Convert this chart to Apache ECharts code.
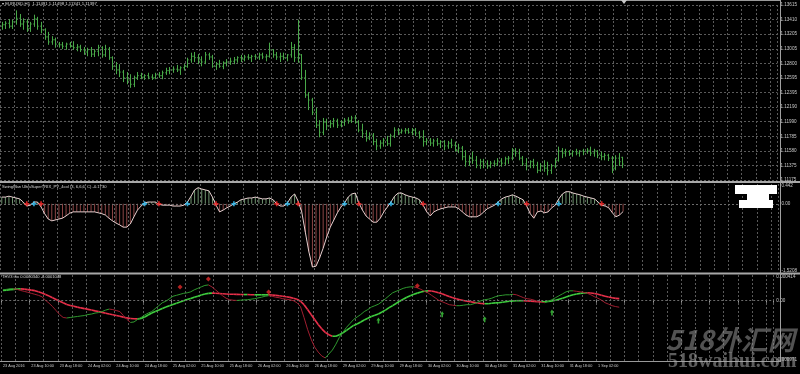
<!DOCTYPE html>
<html><head><meta charset="utf-8">
<script src="https://cdn.jsdelivr.net/npm/echarts@6.0.0/dist/echarts.min.js"></script>
<style>html,body{margin:0;padding:0;background:#000;}#c{width:800px;height:374px;}</style>
</head><body><div id="c"></div>
<script>
// ---------- data ----------
const timeLabels = ['23 Aug 2016','23 Aug 10:00','23 Aug 18:00','24 Aug 02:00','24 Aug 10:00','24 Aug 18:00','25 Aug 02:00','25 Aug 10:00','25 Aug 18:00','26 Aug 02:00','26 Aug 10:00','26 Aug 18:00','29 Aug 02:00','29 Aug 10:00','29 Aug 18:00','30 Aug 02:00','30 Aug 10:00','30 Aug 18:00','31 Aug 02:00','31 Aug 10:00','31 Aug 18:00','1 Sep 02:00'];
const priceTicks = [1.13615,1.13410,1.13205,1.13005,1.12800,1.12595,1.12395,1.12190,1.11990,1.11785,1.11580,1.11375,1.11175];
const lastPrice = 1.11397;

const barOpen = [
1.1332,1.1334,1.1336,1.1332,1.1338,1.1343,1.1335,1.1338,1.1329,1.1335,
1.1342,1.1332,1.1327,1.1317,1.1310,1.1313,1.1307,1.1306,1.1304,1.1307,
1.1304,1.1302,1.1303,1.1299,1.1296,1.1299,1.1293,1.1297,1.1302,1.1292,
1.1300,1.1288,1.1276,1.1271,1.1268,1.1260,1.1257,1.1251,1.1260,1.1263,
1.1261,1.1263,1.1261,1.1260,1.1264,1.1263,1.1267,1.1270,1.1271,1.1272,
1.1271,1.1274,1.1276,1.1285,1.1290,1.1288,1.1285,1.1282,1.1292,1.1289,
1.1276,1.1279,1.1276,1.1281,1.1282,1.1283,1.1285,1.1288,1.1286,1.1289,
1.1288,1.1290,1.1289,1.1292,1.1289,1.1290,1.1299,1.1292,1.1289,1.1290,
1.1288,1.1292,1.1302,1.1288,1.1292,1.1260,1.1236,1.1229,1.1212,1.1194,
1.1184,1.1198,1.1193,1.1196,1.1200,1.1194,1.1198,1.1201,1.1200,1.1204,
1.1198,1.1187,1.1182,1.1176,1.1180,1.1171,1.1165,1.1169,1.1173,1.1168,
1.1179,1.1187,1.1184,1.1186,1.1187,1.1184,1.1187,1.1183,1.1177,1.1171,
1.1173,1.1169,1.1172,1.1168,1.1171,1.1165,1.1169,1.1166,1.1159,1.1162,
1.1150,1.1143,1.1148,1.1145,1.1138,1.1143,1.1140,1.1137,1.1141,1.1140,
1.1144,1.1141,1.1147,1.1148,1.1158,1.1155,1.1148,1.1140,1.1137,1.1143,
1.1138,1.1131,1.1137,1.1134,1.1131,1.1137,1.1145,1.1158,1.1155,1.1157,
1.1154,1.1157,1.1155,1.1158,1.1157,1.1159,1.1155,1.1158,1.1152,1.1150,
1.1152,1.1148,1.1134,1.1148,1.11491];
const barHigh = [
1.1338,1.1339,1.1342,1.1341,1.1354,1.1349,1.1343,1.1342,1.1338,1.1348,
1.1345,1.1338,1.1329,1.1324,1.1318,1.1316,1.1310,1.1310,1.1309,1.1310,
1.1311,1.1307,1.1306,1.1303,1.1302,1.1303,1.1300,1.1306,1.1304,1.1306,
1.1303,1.1290,1.1282,1.1279,1.1271,1.1268,1.1265,1.1263,1.1268,1.1267,
1.1265,1.1267,1.1265,1.1267,1.1268,1.1270,1.1274,1.1275,1.1276,1.1278,
1.1276,1.1279,1.1288,1.1295,1.1296,1.1293,1.1290,1.1296,1.1295,1.1292,
1.1282,1.1285,1.1283,1.1286,1.1288,1.1289,1.1290,1.1292,1.1292,1.1293,
1.1292,1.1293,1.1295,1.1295,1.1293,1.1309,1.1300,1.1296,1.1295,1.1295,
1.1293,1.1310,1.1307,1.1341,1.1293,1.1271,1.1240,1.1232,1.1218,1.1201,
1.1204,1.1203,1.1201,1.1204,1.1203,1.1201,1.1204,1.1205,1.1207,1.1208,
1.1201,1.1196,1.1187,1.1184,1.1183,1.1175,1.1173,1.1176,1.1179,1.1182,
1.1191,1.1190,1.1189,1.1190,1.1190,1.1190,1.1190,1.1186,1.1187,1.1176,
1.1176,1.1175,1.1176,1.1173,1.1173,1.1172,1.1175,1.1171,1.1168,1.1165,
1.1159,1.1152,1.1157,1.1151,1.1147,1.1147,1.1145,1.1144,1.1145,1.1148,
1.1148,1.1150,1.1151,1.1162,1.1162,1.1161,1.1151,1.1148,1.1145,1.1147,
1.1143,1.1141,1.1145,1.1143,1.1140,1.1148,1.1164,1.1162,1.1161,1.1159,
1.1159,1.1161,1.1159,1.1161,1.1162,1.1164,1.1161,1.1159,1.1157,1.1155,
1.1154,1.1151,1.1152,1.1155,1.11498];
const barLow = [
1.1327,1.1328,1.1329,1.1328,1.1334,1.1331,1.1327,1.1324,1.1324,1.1331,
1.1327,1.1322,1.1313,1.1306,1.1306,1.1302,1.1302,1.1300,1.1299,1.1302,
1.1299,1.1297,1.1296,1.1292,1.1290,1.1289,1.1289,1.1290,1.1288,1.1289,
1.1285,1.1271,1.1265,1.1261,1.1254,1.1251,1.1246,1.1247,1.1257,1.1258,
1.1257,1.1258,1.1257,1.1258,1.1260,1.1258,1.1264,1.1265,1.1267,1.1268,
1.1264,1.1270,1.1274,1.1281,1.1282,1.1279,1.1276,1.1279,1.1285,1.1274,
1.1271,1.1274,1.1272,1.1276,1.1278,1.1279,1.1281,1.1282,1.1283,1.1285,
1.1282,1.1285,1.1285,1.1286,1.1283,1.1288,1.1288,1.1285,1.1282,1.1285,
1.1283,1.1288,1.1282,1.1281,1.1257,1.1232,1.1215,1.1208,1.1190,1.1177,
1.1180,1.1187,1.1190,1.1191,1.1190,1.1191,1.1193,1.1196,1.1197,1.1196,
1.1184,1.1176,1.1171,1.1173,1.1166,1.1159,1.1161,1.1164,1.1165,1.1164,
1.1176,1.1180,1.1182,1.1182,1.1182,1.1180,1.1179,1.1175,1.1164,1.1166,
1.1165,1.1164,1.1165,1.1162,1.1159,1.1161,1.1162,1.1157,1.1155,1.1145,
1.1136,1.1137,1.1140,1.1134,1.1133,1.1134,1.1133,1.1134,1.1136,1.1137,
1.1136,1.1138,1.1140,1.1145,1.1150,1.1145,1.1137,1.1131,1.1134,1.1134,
1.1127,1.1129,1.1129,1.1124,1.1126,1.1134,1.1143,1.1148,1.1150,1.1151,
1.1150,1.1152,1.1150,1.1152,1.1154,1.1151,1.1150,1.1148,1.1145,1.1145,
1.1144,1.1127,1.1131,1.1137,1.11341];
const barClose = [
1.1334,1.1336,1.1332,1.1338,1.1343,1.1335,1.1338,1.1329,1.1335,1.1342,
1.1332,1.1327,1.1317,1.1310,1.1313,1.1307,1.1306,1.1304,1.1307,1.1304,
1.1302,1.1303,1.1299,1.1296,1.1299,1.1293,1.1297,1.1302,1.1292,1.1300,
1.1288,1.1276,1.1271,1.1268,1.1260,1.1257,1.1251,1.1260,1.1263,1.1261,
1.1263,1.1261,1.1260,1.1264,1.1263,1.1267,1.1270,1.1271,1.1272,1.1271,
1.1274,1.1276,1.1285,1.1290,1.1288,1.1285,1.1282,1.1292,1.1289,1.1276,
1.1279,1.1276,1.1281,1.1282,1.1283,1.1285,1.1288,1.1286,1.1289,1.1288,
1.1290,1.1289,1.1292,1.1289,1.1290,1.1299,1.1292,1.1289,1.1290,1.1288,
1.1292,1.1302,1.1288,1.1292,1.1260,1.1236,1.1229,1.1212,1.1194,1.1184,
1.1198,1.1193,1.1196,1.1200,1.1194,1.1198,1.1201,1.1200,1.1204,1.1198,
1.1187,1.1182,1.1176,1.1180,1.1171,1.1165,1.1169,1.1173,1.1168,1.1179,
1.1187,1.1184,1.1186,1.1187,1.1184,1.1187,1.1183,1.1177,1.1171,1.1173,
1.1169,1.1172,1.1168,1.1171,1.1165,1.1169,1.1166,1.1159,1.1162,1.1150,
1.1143,1.1148,1.1145,1.1138,1.1143,1.1140,1.1137,1.1141,1.1140,1.1144,
1.1141,1.1147,1.1148,1.1158,1.1155,1.1148,1.1140,1.1137,1.1143,1.1138,
1.1131,1.1137,1.1134,1.1131,1.1137,1.1145,1.1158,1.1155,1.1157,1.1154,
1.1157,1.1155,1.1158,1.1157,1.1159,1.1155,1.1158,1.1152,1.1150,1.1152,
1.1148,1.1134,1.1148,1.1143,1.11397];

const swing = [
0.15,0.15,0.17,0.15,0.13,0.11,0.04,-0.05,-0.03,0.04,
0.04,-0.07,-0.22,-0.34,-0.38,-0.36,-0.34,-0.32,-0.27,-0.21,
-0.18,-0.18,-0.18,-0.18,-0.18,-0.18,-0.18,-0.20,-0.22,-0.25,
-0.32,-0.38,-0.43,-0.47,-0.52,-0.52,-0.45,-0.29,-0.14,-0.05,
0.02,0.04,0.04,0.04,-0.01,-0.03,-0.03,-0.03,-0.05,-0.05,
-0.05,-0.03,0.04,0.17,0.31,0.36,0.33,0.31,0.29,0.15,
-0.03,-0.18,-0.14,-0.09,-0.05,0.00,0.04,0.09,0.11,0.13,
0.13,0.15,0.13,0.11,0.11,0.13,0.09,0.00,-0.05,-0.05,
0.02,0.15,0.22,0.06,-0.18,-0.63,-1.07,-1.41,-1.39,-1.21,
-0.99,-0.74,-0.52,-0.36,-0.20,-0.07,0.02,0.15,0.22,0.24,
0.02,-0.14,-0.27,-0.34,-0.41,-0.41,-0.32,-0.18,-0.07,0.04,
0.17,0.24,0.24,0.20,0.17,0.15,0.13,0.09,-0.03,-0.18,
-0.27,-0.18,-0.14,-0.11,-0.09,-0.07,-0.07,-0.07,-0.11,-0.18,
-0.25,-0.29,-0.29,-0.29,-0.25,-0.18,-0.11,-0.07,-0.03,0.04,
0.11,0.15,0.17,0.20,0.17,0.13,0.09,-0.05,-0.22,-0.32,
-0.18,-0.16,-0.20,-0.18,-0.09,-0.03,0.11,0.22,0.27,0.27,
0.24,0.22,0.20,0.17,0.15,0.13,0.11,0.04,-0.03,-0.05,
-0.09,-0.20,-0.29,-0.25,-0.173];
const swingRedIdx = [7,11,44,60,77,83,100,118,147,168];
const swingCyanIdx = [9,40,52,65,80,96,109,139,156];
const swingTicks = [0.442, 0, -1.5208];
const swingTickLabels = ['0.442','0.00','-1.5208'];

const trixFast = [
175e-6,183e-6,191e-6,191e-6,183e-6,164e-6,151e-6,135e-6,119e-6,103e-6,
87e-6,64e-6,8e-6,-40e-6,-95e-6,-159e-6,-223e-6,-270e-6,-278e-6,-270e-6,
-262e-6,-254e-6,-246e-6,-239e-6,-223e-6,-215e-6,-199e-6,-191e-6,-175e-6,-151e-6,
-135e-6,-143e-6,-159e-6,-175e-6,-239e-6,-302e-6,-350e-6,-342e-6,-302e-6,-270e-6,
-231e-6,-199e-6,-175e-6,-127e-6,-80e-6,-32e-6,-8e-6,32e-6,72e-6,87e-6,
103e-6,119e-6,127e-6,143e-6,175e-6,199e-6,223e-6,246e-6,254e-6,223e-6,
175e-6,127e-6,80e-6,40e-6,16e-6,8e-6,5e-6,8e-6,13e-6,16e-6,
24e-6,32e-6,45e-6,56e-6,72e-6,80e-6,72e-6,56e-6,48e-6,32e-6,
24e-6,16e-6,0,-32e-6,-95e-6,-270e-6,-461e-6,-620e-6,-747e-6,-827e-6,
-890e-6,-922e-6,-859e-6,-795e-6,-700e-6,-588e-6,-509e-6,-429e-6,-366e-6,-302e-6,
-262e-6,-223e-6,-175e-6,-143e-6,-103e-6,-80e-6,-56e-6,-16e-6,32e-6,80e-6,
127e-6,151e-6,175e-6,199e-6,215e-6,223e-6,223e-6,207e-6,183e-6,151e-6,
127e-6,87e-6,48e-6,8e-6,-16e-6,-40e-6,-64e-6,-72e-6,-80e-6,-80e-6,
-72e-6,-64e-6,-64e-6,-48e-6,-24e-6,0,16e-6,24e-6,40e-6,64e-6,
80e-6,87e-6,95e-6,95e-6,103e-6,95e-6,72e-6,48e-6,32e-6,24e-6,
8e-6,-16e-6,-24e-6,-32e-6,-8e-6,16e-6,48e-6,80e-6,111e-6,143e-6,
159e-6,159e-6,151e-6,143e-6,135e-6,119e-6,95e-6,64e-6,40e-6,8e-6,
-32e-6,-56e-6,-80e-6,-95e-6,-104.8e-6];
const trixSlow = [
164e-6,170e-6,178e-6,183e-6,188e-6,191e-6,186e-6,178e-6,170e-6,162e-6,
143e-6,124e-6,99e-6,75e-6,48e-6,19e-6,-8e-6,-32e-6,-60e-6,-76e-6,
-89e-6,-103e-6,-116e-6,-127e-6,-140e-6,-151e-6,-164e-6,-175e-6,-188e-6,-202e-6,
-215e-6,-227e-6,-239e-6,-251e-6,-264e-6,-277e-6,-286e-6,-291e-6,-293e-6,-286e-6,
-262e-6,-231e-6,-199e-6,-175e-6,-151e-6,-127e-6,-103e-6,-80e-6,-60e-6,-40e-6,
-19e-6,0,19e-6,35e-6,56e-6,73e-6,91e-6,107e-6,118e-6,122e-6,
121e-6,116e-6,111e-6,108e-6,105e-6,103e-6,102e-6,100e-6,99e-6,99e-6,
97e-6,95e-6,95e-6,95e-6,95e-6,95e-6,92e-6,86e-6,80e-6,72e-6,
64e-6,54e-6,41e-6,24e-6,-8e-6,-64e-6,-143e-6,-223e-6,-302e-6,-382e-6,
-453e-6,-509e-6,-548e-6,-572e-6,-572e-6,-548e-6,-517e-6,-477e-6,-437e-6,-398e-6,
-374e-6,-342e-6,-310e-6,-283e-6,-254e-6,-235e-6,-215e-6,-183e-6,-151e-6,-111e-6,
-80e-6,-45e-6,-8e-6,24e-6,56e-6,80e-6,103e-6,122e-6,140e-6,151e-6,
159e-6,156e-6,143e-6,127e-6,111e-6,87e-6,67e-6,48e-6,32e-6,16e-6,
3e-6,-8e-6,-16e-6,-27e-6,-37e-6,-45e-6,-48e-6,-48e-6,-41e-6,-35e-6,
-32e-6,-25e-6,-16e-6,-10e-6,-3e-6,0,0,0,-3e-6,-6e-6,
-11e-6,-16e-6,-17e-6,-16e-6,-11e-6,-3e-6,8e-6,24e-6,41e-6,60e-6,
80e-6,95e-6,108e-6,118e-6,124e-6,127e-6,124e-6,116e-6,103e-6,89e-6,
73e-6,60e-6,48e-6,38e-6,34e-6];
const trixRedIdx = [50,58,75,117];
const trixRedVal = [220e-6,350e-6,140e-6,240e-6];
const trixGreenIdx = [106,124,136,155];
const trixGreenVal = [-320e-6,-220e-6,-300e-6,-190e-6];
const trixTicks = [0.000414, 0, -0.000971];
const trixTickLabels = ['0.000414','0.00','-0.000971'];

// ---------- layout / style ----------
const TOTAL = 218;
const cats = Array.from({length: TOTAL}, (_, i) => String(i));
const gridLine = {color:'#5a5a5a', type:[2,2], width:1};
const txt = '#c8c8c8';
const font = 'Liberation Sans, Arial, sans-serif';
const LS = 4.6;

function nearestIdx(ticks, v){ let b = 0; for (let k = 1; k < ticks.length; k++) if (Math.abs(ticks[k]-v) < Math.abs(ticks[b]-v)) b = k; return b; }
// first label is pushed down, last pushed up so they sit inside their pane
function edgeLabels(ticks, labels){
  return v => { const k = nearestIdx(ticks, v); if (k === 0) return '{t|' + labels[k] + '}'; if (k === ticks.length-1) return '{b|' + labels[k] + '}'; return labels[k]; };
}
const edgeRich = {
  t:{fontSize:LS, fontFamily:font, color:txt, padding:[4,0,0,0]},
  b:{fontSize:LS, fontFamily:font, color:txt, padding:[0,0,3,0]}
};
function xAx(gi, show){
  return {type:'category', gridIndex:gi, data:cats, boundaryGap:true,
    axisLine:{show:false},
    axisTick:{show:show, interval:7, length:2, lineStyle:{color:'#9a9a9a'}},
    axisLabel:{show:show, interval:7, align:'left', margin:3, fontSize:3.8, fontFamily:font, color:txt,
      formatter:(v, idx) => (idx % 8 === 0 && timeLabels[idx/8]) ? timeLabels[idx/8] : ''},
    splitLine:{show:true, interval:3, lineStyle:gridLine}};
}
const labelStyle = {fontSize:LS, fontFamily:font, color:txt, margin:3};
const priceInterval = (priceTicks[0] - priceTicks[priceTicks.length-1]) / (priceTicks.length - 1);

const ohlcData = barOpen.map((o, i) => [i, o, barHigh[i], barLow[i], barClose[i]]);
function renderOHLC(params, api){
  const i = api.value(0);
  const o = api.coord([i, api.value(1)]), h = api.coord([i, api.value(2)]);
  const l = api.coord([i, api.value(3)]), c = api.coord([i, api.value(4)]);
  const x = Math.round(o[0]) + 0.5;
  const st = {stroke:'#48a848', lineWidth:1};
  return {type:'group', children:[
    {type:'line', shape:{x1:x, y1:h[1], x2:x, y2:l[1]}, style:st},
    {type:'line', shape:{x1:x-1.2, y1:o[1], x2:x, y2:o[1]}, style:st},
    {type:'line', shape:{x1:x, y1:c[1], x2:x+1.2, y2:c[1]}, style:st}
  ]};
}
function segRenderer(arr, up, down, w){
  return function(params, api){
    const i = params.dataIndex;
    if (i >= arr.length - 1) return null;
    const p1 = api.coord([i, arr[i]]), p2 = api.coord([i+1, arr[i+1]]);
    return {type:'line', shape:{x1:p1[0], y1:p1[1], x2:p2[0], y2:p2[1]},
      style:{stroke: arr[i+1] >= arr[i] ? up : down, lineWidth:w}};
  };
}
const zeroLine = {silent:true, symbol:['none','none'], animation:false, data:[{yAxis:0}],
  lineStyle:{color:'#6a6a6a', type:[2,2], width:1}, label:{show:false}};

const chart = echarts.init(document.getElementById('c'), null, {renderer:'canvas'});
chart.setOption({
  backgroundColor:'#000',
  animation:false,
  title:[
    {text:'\u25BE EURUSD,H1  1.11491 1.11498 1.11341 1.11397', left:2, top:2, padding:0, textStyle:{fontSize:4.3, fontWeight:'normal', color:'#d8d8d8', fontFamily:font}},
    {text:'SwingMan UltraSuperTRIX_PV_4col (3, 6,6,6, C) -0.1730', left:2, top:185, padding:0, textStyle:{fontSize:4.1, fontWeight:'normal', color:'#d8d8d8', fontFamily:font}},
    {text:'THV3 trix 0.0000340 -0.0001048', left:2, top:275, padding:0, textStyle:{fontSize:4.1, fontWeight:'normal', color:'#d8d8d8', fontFamily:font}}
  ],
  grid:[
    {left:0, width:780, top:5, height:175},
    {left:0, width:780, top:184, height:88},
    {left:0, width:780, top:275, height:86}
  ],
  xAxis:[xAx(0,false), xAx(1,false), xAx(2,true)],
  yAxis:[
    {type:'value', gridIndex:0, position:'right', min:priceTicks[priceTicks.length-1], max:priceTicks[0], interval:priceInterval,
      axisLine:{show:false}, axisTick:{show:false},
      axisLabel:Object.assign({formatter:v => priceTicks[nearestIdx(priceTicks, v)].toFixed(5)}, labelStyle),
      splitLine:{show:true, lineStyle:gridLine}},
    {type:'value', gridIndex:1, position:'right', min:-1.5208, max:0.442,
      axisLine:{show:false}, axisTick:{show:false},
      axisLabel:Object.assign({customValues:swingTicks, formatter:edgeLabels(swingTicks, swingTickLabels), rich:edgeRich}, labelStyle),
      splitLine:{show:false}},
    {type:'value', gridIndex:2, position:'right', min:-0.000971, max:0.000414,
      axisLine:{show:false}, axisTick:{show:false},
      axisLabel:Object.assign({customValues:trixTicks, formatter:edgeLabels(trixTicks, trixTickLabels), rich:edgeRich}, labelStyle),
      splitLine:{show:false}}
  ],
  series:[
    {type:'custom', xAxisIndex:0, yAxisIndex:0, data:ohlcData, encode:{x:0, y:[1,2,3,4]}, renderItem:renderOHLC, silent:true, z:3},
    {type:'line', xAxisIndex:0, yAxisIndex:0, data:barClose, symbol:'none', lineStyle:{opacity:0}, silent:true, z:4,
      markLine:{silent:true, symbol:['none','none'], animation:false,
        data:[{yAxis:lastPrice}],
        lineStyle:{color:'#8e8e8e', type:'solid', width:1},
        label:{position:'end', distance:1, formatter:lastPrice.toFixed(5), fontSize:LS, fontFamily:font, color:'#000', backgroundColor:'#d4d4d4', padding:[1,2,1,2]}}},
    {type:'bar', xAxisIndex:1, yAxisIndex:1, data:swing, barWidth:1, silent:true,
      itemStyle:{color: p => p.value >= 0 ? '#6f936f' : '#8c4646'}},
    {type:'line', xAxisIndex:1, yAxisIndex:1, data:swing, symbol:'none', silent:true, lineStyle:{color:'#e6cfcf', width:1}, z:5,
      markLine:zeroLine},
    {type:'scatter', xAxisIndex:1, yAxisIndex:1, data:swingRedIdx.map(i => [i, 0]), symbol:'path://M2,0H4V2H6V4H4V6H2V4H0V2H2Z', symbolSize:5, itemStyle:{color:'#ff2a2a'}, silent:true, z:6},
    {type:'scatter', xAxisIndex:1, yAxisIndex:1, data:swingCyanIdx.map(i => [i, 0]), symbol:'path://M2,0H4V2H6V4H4V6H2V4H0V2H2Z', symbolSize:5, itemStyle:{color:'#38c8ff'}, silent:true, z:6},
    {type:'line', xAxisIndex:2, yAxisIndex:2, data:trixSlow, symbol:'none', lineStyle:{opacity:0}, silent:true, z:2,
      markLine:zeroLine},
    {type:'custom', xAxisIndex:2, yAxisIndex:2, data:trixSlow.map((v, i) => [i, v]), encode:{x:0, y:1}, renderItem:segRenderer(trixSlow, '#3fcf3f', '#e8304a', 1.6), silent:true, z:4},
    {type:'custom', xAxisIndex:2, yAxisIndex:2, data:trixFast.map((v, i) => [i, v]), encode:{x:0, y:1}, renderItem:segRenderer(trixFast, '#2f9a2f', '#a01e30', 1), silent:true, z:5},
    {type:'scatter', xAxisIndex:2, yAxisIndex:2, data:trixRedIdx.map((i, k) => [i, trixRedVal[k]]), symbol:'diamond', symbolSize:5, itemStyle:{color:'#e02a2a'}, silent:true, z:6},
    {type:'scatter', xAxisIndex:2, yAxisIndex:2, data:trixGreenIdx.map((i, k) => [i, trixGreenVal[k]]), symbol:'path://M5,0L10,5L7,5L7,10L3,10L3,5L0,5Z', symbolSize:[4,6], itemStyle:{color:'#3fcf3f'}, silent:true, z:6}
  ],
  graphic:[
    {type:'rect', shape:{x:0, y:0, width:781, height:1}, style:{fill:'#9a9a9a'}, z:100, silent:true},
    {type:'rect', shape:{x:0, y:181, width:800, height:2}, style:{fill:'#a8a8a8'}, z:100, silent:true},
    {type:'rect', shape:{x:0, y:272.5, width:800, height:2}, style:{fill:'#a8a8a8'}, z:100, silent:true},
    {type:'rect', shape:{x:0, y:361, width:781, height:1}, style:{fill:'#9a9a9a'}, z:100, silent:true},
    {type:'rect', shape:{x:780, y:0, width:1, height:362}, style:{fill:'#a0a0a0'}, z:100, silent:true},
    {type:'polygon', shape:{points:[[621,0],[627,0],[624,4]]}, style:{fill:'#c8c8c8'}, z:101, silent:true},
    {type:'rect', shape:{x:735, y:185, width:42, height:9}, style:{fill:'#fff'}, z:101, silent:true},
    {type:'rect', shape:{x:747, y:193, width:22, height:8}, style:{fill:'#fff'}, z:101, silent:true},
    {type:'rect', shape:{x:739, y:200, width:34, height:8}, style:{fill:'#fff'}, z:101, silent:true},
    {type:'text', x:666, y:326, style:{text:'518外汇网', fill:'rgba(150,150,150,0.55)', font:'italic bold 27px "Noto Sans CJK SC", sans-serif'}, z:102, silent:true},
    {type:'text', x:668, y:352, style:{text:'518waihui.com', fill:'rgba(170,170,170,0.55)', font:'bold 20px "Liberation Serif", serif'}, z:102, silent:true}
  ]
});
</script>
</body></html>
